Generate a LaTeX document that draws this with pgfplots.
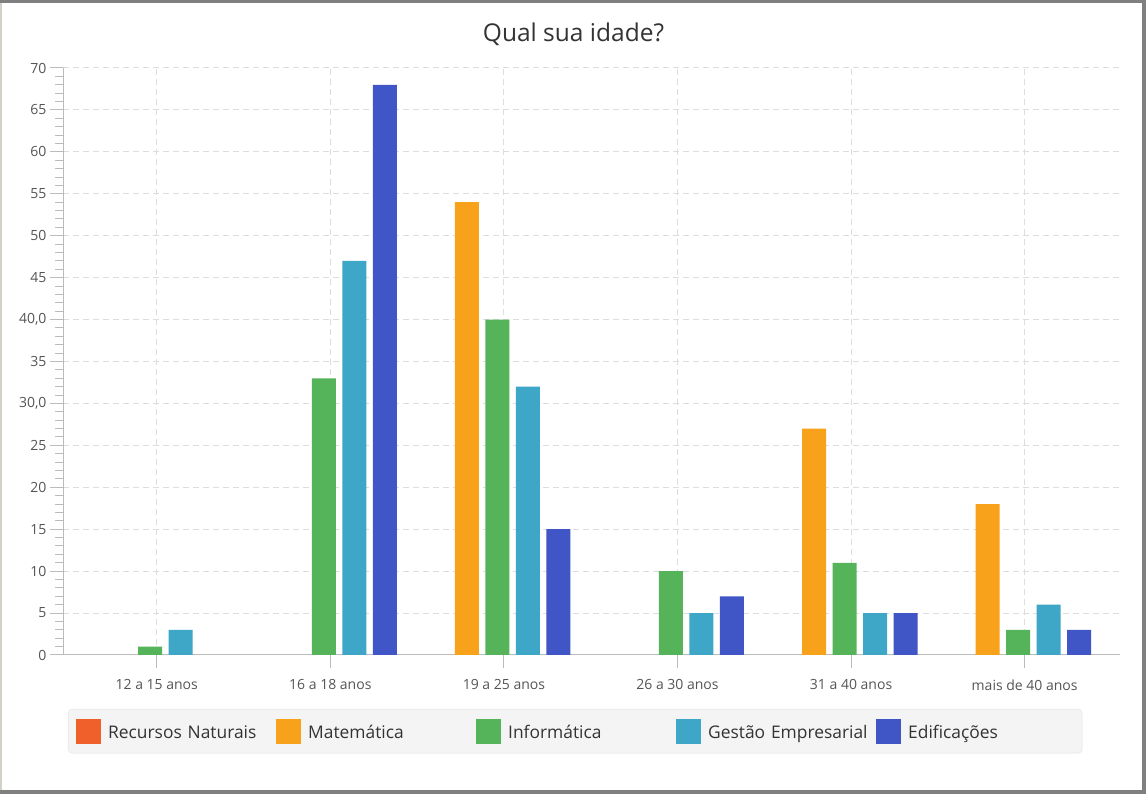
\documentclass[border=0pt]{standalone}
\usepackage{pgfplots}
\pgfplotsset{compat=1.18}
\usepackage{fontspec}
\setmainfont{Open Sans}

\definecolor{cRN}{HTML}{F0602A}
\definecolor{cMat}{HTML}{F8A21C}
\definecolor{cInf}{HTML}{55B45A}
\definecolor{cGest}{HTML}{3EA7C8}
\definecolor{cEdif}{HTML}{4055C6}
\definecolor{axisgray}{HTML}{BBBBBB}
\definecolor{gridgray}{HTML}{DDDDDD}
\definecolor{textgray}{HTML}{555555}
\definecolor{titlegray}{HTML}{333333}
\definecolor{framegray}{HTML}{7F7F7F}
\definecolor{leftedge}{HTML}{D4D0C8}
\definecolor{legbg}{HTML}{F4F4F4}
\definecolor{legborder}{HTML}{E2E2E2}

\pgfplotsset{
    swatch/.style={
        legend image code/.code={\fill[##1, sharp corners] (0pt,-12.5pt) rectangle (25pt,12.5pt);},
    },
}

\begin{document}
\begin{tikzpicture}[x=1pt,y=1pt]
% page and frame
\fill[white] (0,0) rectangle (1146,794);
\fill[framegray] (0,791) rectangle (1146,794);
\fill[framegray] (0,0) rectangle (1146,4);
\fill[framegray] (1142,0) rectangle (1146,794);
\fill[leftedge] (0,4) rectangle (2,791);

\node[font=\fontsize{24.5}{28}\selectfont, text=titlegray] at (573.5,760) {Qual sua idade?};

\begin{axis}[
    at={(63pt,139pt)}, anchor=south west,
    scale only axis,
    width=1057pt, height=587pt,
    xmin=-0.54, xmax=5.549,
    ymin=0, ymax=70,
    ybar, bar width=24pt,
    axis x line*=bottom, axis y line*=left,
    axis line style={-, draw=axisgray, line width=1pt},
    xtick={0,1,2,3,4,5},
    xticklabels={12 a 15 anos,16 a 18 anos,19 a 25 anos,26 a 30 anos,31 a 40 anos,mais de 40 anos},
    ytick={0,5,...,70},
    yticklabels={0,5,10,15,20,25,{30,0},35,{40,0},45,50,55,60,65,70},
    minor y tick num=4,
    tick align=outside,
    major tick length=13pt, minor tick length=8pt,
    tick style={draw=axisgray, line width=1pt},
    xmajorgrids, ymajorgrids,
    major grid style={draw=gridgray, line width=1pt, dash pattern=on 6pt off 4pt},
    ticklabel style={font=\fontsize{14}{16}\selectfont, text=textgray},
    xticklabel style={yshift=-8pt},
    y filter/.expression={y==0 ? nan : y},
    unbounded coords=discard,
    legend columns=5,
    legend cell align=left,
    legend style={
        at={(axis description cs:0.0047,-0.092)}, anchor=north west,
        fill=legbg, draw=legborder, rounded corners=4pt,
        inner xsep=8pt, inner ysep=9.5pt,
        font=\fontsize{17.4}{20}\selectfont, text=titlegray,
        nodes={inner sep=0pt, text width=166pt, align=left, text height=16pt, text depth=1pt},
        /tikz/every odd column/.append style={column sep=7pt},
        /tikz/every even column/.append style={column sep=2pt},
    },
    every axis plot/.append style={draw=none, swatch},
]
% Recursos Naturais (all zero: legend entry kept, bars have no height)
\addlegendimage{swatch, fill=cRN, draw=none}
\addplot[fill=cRN, bar shift=-67.5pt, forget plot] coordinates {(0,0) (1,0) (2,0) (3,0) (4,0) (5,0)};
% Matematica
\addplot[fill=cMat, bar shift=-37pt] coordinates {(0,0) (1,0) (2,54) (3,0) (4,27) (5,18)};
% Informatica
\addplot[fill=cInf, bar shift=-6.5pt] coordinates {(0,1) (1,33) (2,40) (3,10) (4,11) (5,3)};
% Gestao Empresarial
\addplot[fill=cGest, bar shift=24pt] coordinates {(0,3) (1,47) (2,32) (3,5) (4,5) (5,6)};
% Edificacoes
\addplot[fill=cEdif, bar shift=54.5pt] coordinates {(0,0) (1,68) (2,15) (3,7) (4,5) (5,3)};
\legend{Recursos Naturais, Matemática, Informática, Gestão Empresarial, Edificações}
\end{axis}
\end{tikzpicture}
\end{document}
